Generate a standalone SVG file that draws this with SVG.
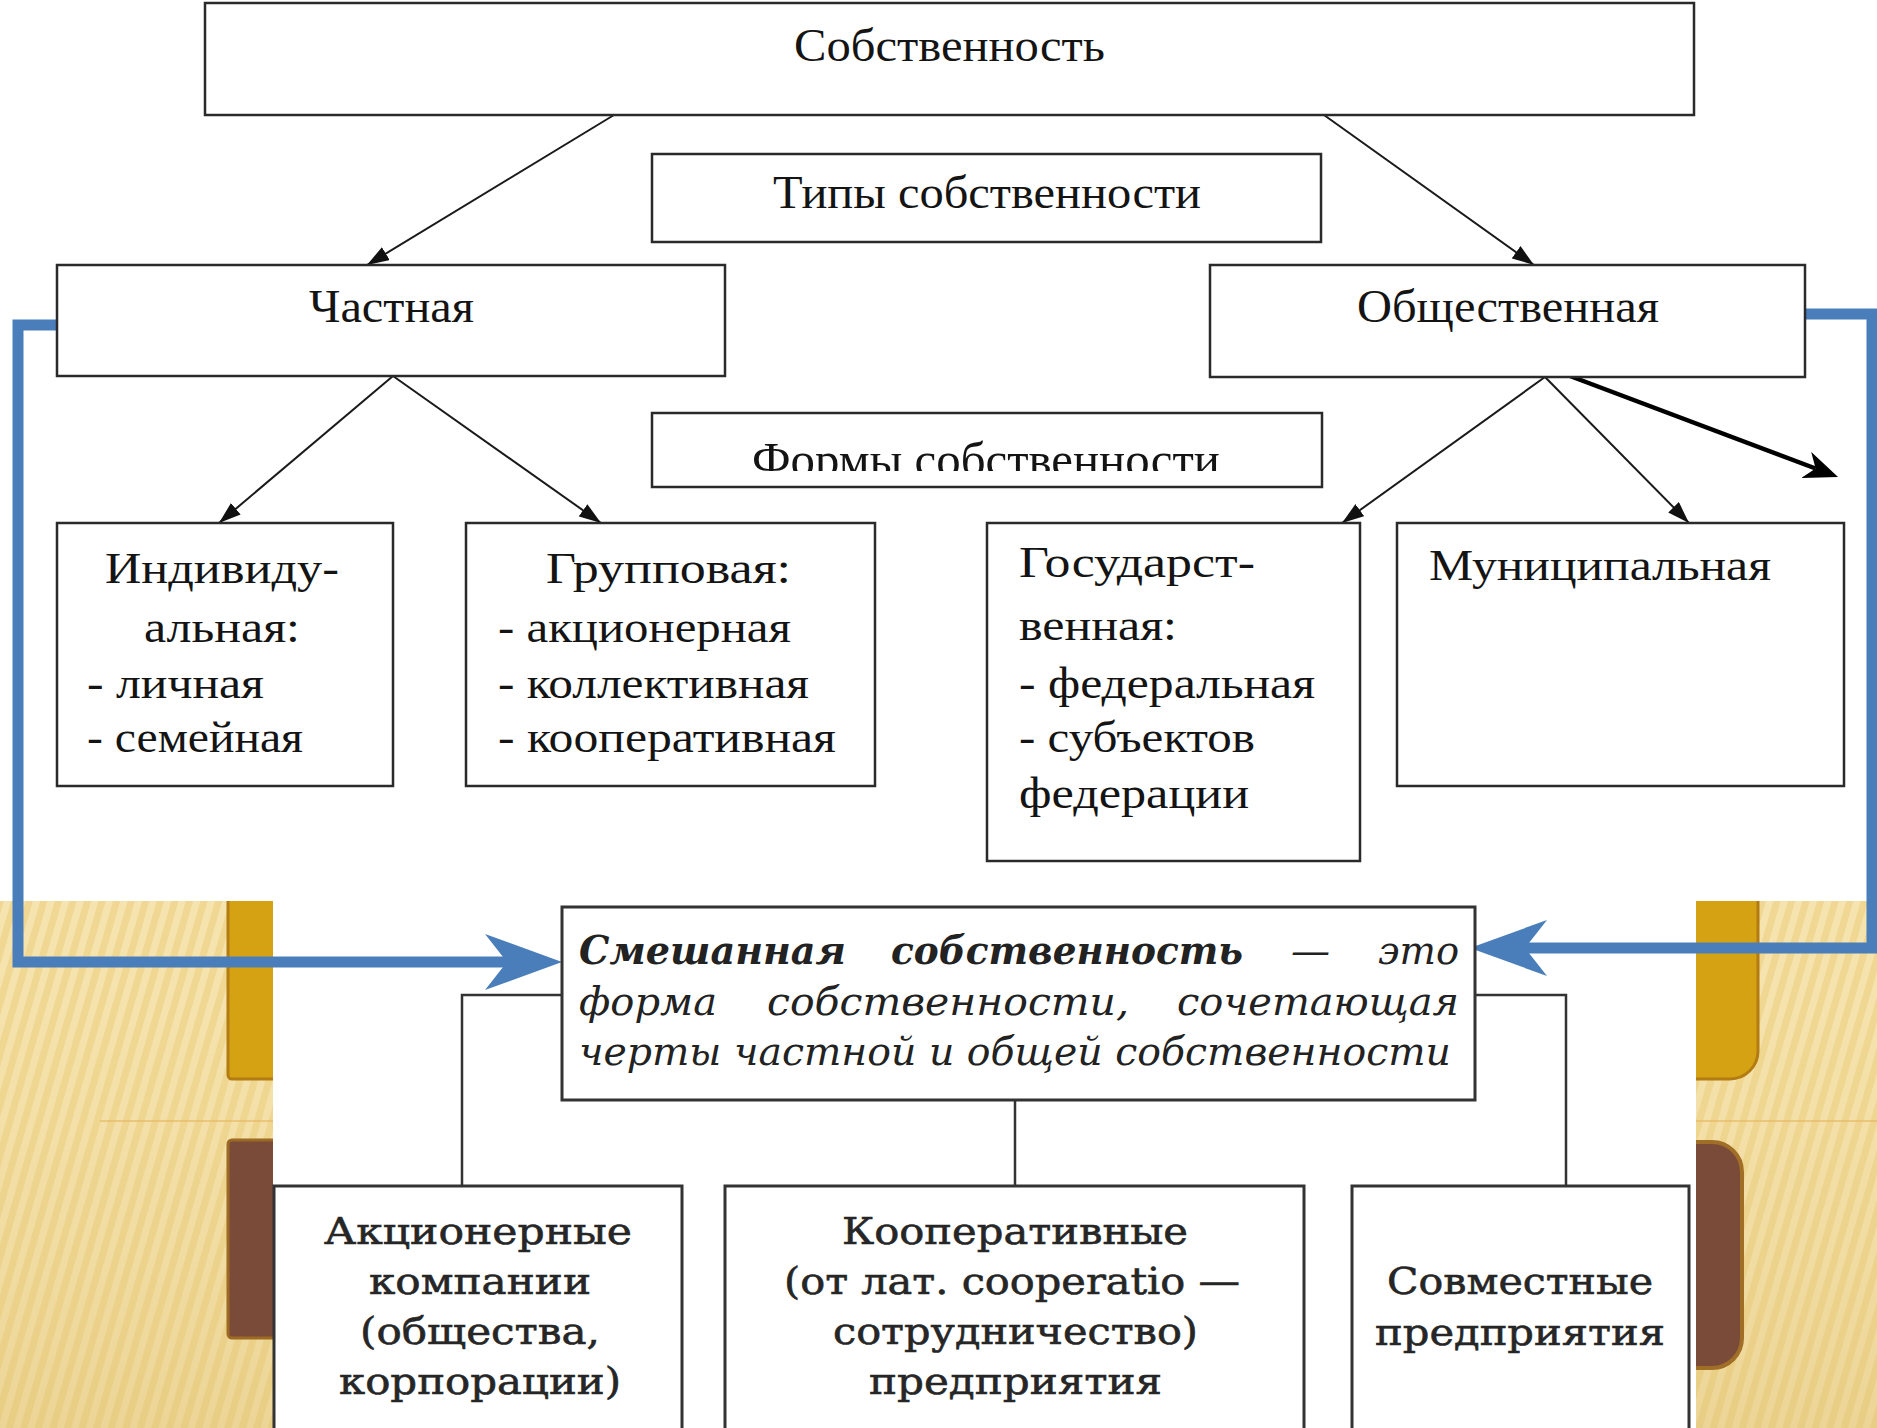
<svg xmlns="http://www.w3.org/2000/svg" width="1877" height="1428" viewBox="0 0 1877 1428">
  <defs>
    <pattern id="woodStripes" width="14" height="60" patternUnits="userSpaceOnUse" patternTransform="rotate(16)">
      <rect width="14" height="60" fill="#F0D894"/>
      <rect x="0" width="7" height="60" fill="#F6E4B0"/>
    </pattern>
    <linearGradient id="woodShade" x1="0" y1="0" x2="0" y2="1">
      <stop offset="0" stop-color="#FFF6D8" stop-opacity="0.3"/>
      <stop offset="0.6" stop-color="#F0D890" stop-opacity="0"/>
      <stop offset="1" stop-color="#D9B866" stop-opacity="0.35"/>
    </linearGradient>
    <marker id="arrSmall" viewBox="0 0 22 15" refX="22" refY="7.5" markerWidth="22" markerHeight="15" markerUnits="userSpaceOnUse" orient="auto">
      <path d="M0,0 L22,7.5 L0,15 z" fill="#111"/>
    </marker>
    <marker id="arrStealthBlack" viewBox="0 0 34 28" refX="10" refY="14" markerWidth="34" markerHeight="28" markerUnits="userSpaceOnUse" orient="auto">
      <path d="M0,0 L34,14 L0,28 L10,14 z" fill="#000"/>
    </marker>
    <marker id="arrStealthBlue" viewBox="0 0 77 56" refX="22" refY="28" markerWidth="77" markerHeight="56" markerUnits="userSpaceOnUse" orient="auto">
      <path d="M0,0 L77,28 L0,56 L22,28 z" fill="#4A7EBB"/>
    </marker>
    <clipPath id="formsClip">
      <rect x="652" y="413" width="670" height="58"/>
    </clipPath>
  </defs>
  <style>
    .box { fill: #ffffff; stroke: #2a2a2a; stroke-width: 2.5; }
    .box3 { fill: #ffffff; stroke: #333333; stroke-width: 3; }
    .t { font-family: "Liberation Serif", "Times New Roman", serif; fill: #141414; }
    .b { font-family: "DejaVu Serif", "Liberation Serif", serif; fill: #262626; stroke: #262626; stroke-width: 0.6; }
    .bi { font-family: "DejaVu Serif", "Liberation Serif", serif; font-style: italic; fill: #222; }
    .thin { stroke: #1a1a1a; stroke-width: 2; fill: none; }
    .conn { stroke: #333; stroke-width: 2.5; fill: none; }
    .blue { stroke: #4A7EBB; stroke-width: 11; fill: none; stroke-linejoin: miter; }
  </style>

  <!-- background -->
  <g id="background">
    <rect x="0" y="0" width="1877" height="1428" fill="url(#woodStripes)"/>
    <rect x="0" y="0" width="1877" height="1428" fill="url(#woodShade)"/>
    <rect x="228" y="860" width="90" height="219" rx="4" fill="#D5A214" stroke="#B27C12" stroke-width="3"/>
    <rect x="1630" y="860" width="128" height="219" rx="28" fill="#D5A214" stroke="#B27C12" stroke-width="3"/>
    <rect x="228" y="1140" width="90" height="198" rx="4" fill="#7B4B3A" stroke="#9C6A22" stroke-width="3"/>
    <rect x="1630" y="1142" width="112" height="226" rx="30" fill="#7B4B3A" stroke="#A06E26" stroke-width="4"/>
    <line x1="100" y1="1121" x2="1877" y2="1121" stroke="#E6B860" stroke-width="2" opacity="0.6"/>
    <rect x="0" y="0" width="1877" height="901" fill="#ffffff"/>
    <rect x="273" y="901" width="1423" height="527" fill="#ffffff"/>
  </g>

  <!-- connectors -->
  <g id="connectors">
    <line class="thin" x1="614" y1="115" x2="367" y2="265" marker-end="url(#arrSmall)"/>
    <line class="thin" x1="1324" y1="115" x2="1534" y2="265" marker-end="url(#arrSmall)"/>
    <line class="thin" x1="393" y1="376" x2="219" y2="523" marker-end="url(#arrSmall)"/>
    <line class="thin" x1="393" y1="376" x2="601" y2="523" marker-end="url(#arrSmall)"/>
    <line class="thin" x1="1545" y1="377" x2="1342" y2="523" marker-end="url(#arrSmall)"/>
    <line class="thin" x1="1545" y1="377" x2="1689" y2="523" marker-end="url(#arrSmall)"/>
    <line x1="1562" y1="373" x2="1815.6" y2="468.5" stroke="#000" stroke-width="4.5" marker-end="url(#arrStealthBlack)"/>
    <polyline class="blue" points="63,325 18,325 18,962 507,962" marker-end="url(#arrStealthBlue)"/>
    <polyline class="blue" points="1805,314 1872,314 1872,948 1525,948" marker-end="url(#arrStealthBlue)"/>
    <polyline class="conn" points="562,995 462,995 462,1186"/>
    <line class="conn" x1="1015" y1="1100" x2="1015" y2="1186"/>
    <polyline class="conn" points="1475,995 1566,995 1566,1186"/>
  </g>

  <!-- nodes -->
  <g id="node-sobstvennost">
    <rect class="box" x="205" y="3" width="1489" height="112"/>
    <text class="t" x="794" y="61" font-size="47" textLength="311" lengthAdjust="spacingAndGlyphs">Собственность</text>
  </g>
  <g id="node-tipy">
    <rect class="box" x="652" y="154" width="669" height="88"/>
    <text class="t" x="773" y="208" font-size="46" textLength="428" lengthAdjust="spacingAndGlyphs">Типы собственности</text>
  </g>
  <g id="node-chastnaya">
    <rect class="box" x="57" y="265" width="668" height="111"/>
    <text class="t" x="309" y="322" font-size="46" textLength="165" lengthAdjust="spacingAndGlyphs">Частная</text>
  </g>
  <g id="node-obshchestvennaya">
    <rect class="box" x="1210" y="265" width="595" height="112"/>
    <text class="t" x="1357" y="322" font-size="46" textLength="302" lengthAdjust="spacingAndGlyphs">Общественная</text>
  </g>
  <g id="node-formy">
    <rect class="box" x="652" y="413" width="670" height="74"/>
    <text class="t" x="752" y="476" font-size="48" textLength="468" lengthAdjust="spacingAndGlyphs" clip-path="url(#formsClip)">Формы собственности</text>
  </g>
  <g id="node-individualnaya">
    <rect class="box" x="57" y="523" width="336" height="263"/>
    <text class="t" font-size="44">
      <tspan x="105" y="583" textLength="234" lengthAdjust="spacingAndGlyphs">Индивиду-</tspan>
      <tspan x="144" y="642" textLength="156" lengthAdjust="spacingAndGlyphs">альная:</tspan>
      <tspan x="87" y="698" textLength="177" lengthAdjust="spacingAndGlyphs">- личная</tspan>
      <tspan x="87" y="752" textLength="216" lengthAdjust="spacingAndGlyphs">- семейная</tspan>
    </text>
  </g>
  <g id="node-gruppovaya">
    <rect class="box" x="466" y="523" width="409" height="263"/>
    <text class="t" font-size="44">
      <tspan x="546" y="583" textLength="245" lengthAdjust="spacingAndGlyphs">Групповая:</tspan>
      <tspan x="498" y="642" textLength="293" lengthAdjust="spacingAndGlyphs">- акционерная</tspan>
      <tspan x="498" y="698" textLength="311" lengthAdjust="spacingAndGlyphs">- коллективная</tspan>
      <tspan x="498" y="752" textLength="338" lengthAdjust="spacingAndGlyphs">- кооперативная</tspan>
    </text>
  </g>
  <g id="node-gosudarstvennaya">
    <rect class="box" x="987" y="523" width="373" height="338"/>
    <text class="t" font-size="44">
      <tspan x="1019" y="577" textLength="236" lengthAdjust="spacingAndGlyphs">Государст-</tspan>
      <tspan x="1019" y="640" textLength="158" lengthAdjust="spacingAndGlyphs">венная:</tspan>
      <tspan x="1019" y="698" textLength="296" lengthAdjust="spacingAndGlyphs">- федеральная</tspan>
      <tspan x="1019" y="752" textLength="236" lengthAdjust="spacingAndGlyphs">- субъектов</tspan>
      <tspan x="1019" y="808" textLength="230" lengthAdjust="spacingAndGlyphs">федерации</tspan>
    </text>
  </g>
  <g id="node-municipalnaya">
    <rect class="box" x="1397" y="523" width="447" height="263"/>
    <text class="t" x="1429" y="580" font-size="44" textLength="342" lengthAdjust="spacingAndGlyphs">Муниципальная</text>
  </g>
  <g id="node-smeshannaya">
    <rect class="box3" x="562" y="907" width="913" height="193"/>
    <text class="bi" font-size="39">
      <tspan x="579" y="964" font-weight="bold" textLength="267" lengthAdjust="spacingAndGlyphs">Смешанная</tspan>
      <tspan x="891" y="964" font-weight="bold" textLength="352" lengthAdjust="spacingAndGlyphs">собственность</tspan>
      <tspan x="1291" y="964" textLength="39" lengthAdjust="spacingAndGlyphs">—</tspan>
      <tspan x="1378" y="964" textLength="81" lengthAdjust="spacingAndGlyphs">это</tspan>
      <tspan x="579" y="1015" textLength="138" lengthAdjust="spacingAndGlyphs">форма</tspan>
      <tspan x="767" y="1015" textLength="362" lengthAdjust="spacingAndGlyphs">собственности,</tspan>
      <tspan x="1177" y="1015" textLength="282" lengthAdjust="spacingAndGlyphs">сочетающая</tspan>
      <tspan x="579" y="1065" textLength="872" lengthAdjust="spacingAndGlyphs">черты частной и общей собственности</tspan>
    </text>
  </g>
  <g id="node-akcionernye">
    <rect class="box3" x="274" y="1186" width="408" height="260"/>
    <text class="b" font-size="38">
      <tspan x="324" y="1244" textLength="308" lengthAdjust="spacingAndGlyphs">Акционерные</tspan>
      <tspan x="369" y="1294" textLength="222" lengthAdjust="spacingAndGlyphs">компании</tspan>
      <tspan x="360" y="1344" textLength="240" lengthAdjust="spacingAndGlyphs">(общества,</tspan>
      <tspan x="339" y="1394" textLength="282" lengthAdjust="spacingAndGlyphs">корпорации)</tspan>
    </text>
  </g>
  <g id="node-kooperativnye">
    <rect class="box3" x="725" y="1186" width="579" height="260"/>
    <text class="b" font-size="38">
      <tspan x="842" y="1244" textLength="346" lengthAdjust="spacingAndGlyphs">Кооперативные</tspan>
      <tspan x="784" y="1294" textLength="456" lengthAdjust="spacingAndGlyphs">(от лат. cooperatio —</tspan>
      <tspan x="833" y="1344" textLength="365" lengthAdjust="spacingAndGlyphs">сотрудничество)</tspan>
      <tspan x="869" y="1394" textLength="293" lengthAdjust="spacingAndGlyphs">предприятия</tspan>
    </text>
  </g>
  <g id="node-sovmestnye">
    <rect class="box3" x="1352" y="1186" width="337" height="260"/>
    <text class="b" font-size="38">
      <tspan x="1387" y="1294" textLength="266" lengthAdjust="spacingAndGlyphs">Совместные</tspan>
      <tspan x="1375" y="1345" textLength="290" lengthAdjust="spacingAndGlyphs">предприятия</tspan>
    </text>
  </g>
</svg>
